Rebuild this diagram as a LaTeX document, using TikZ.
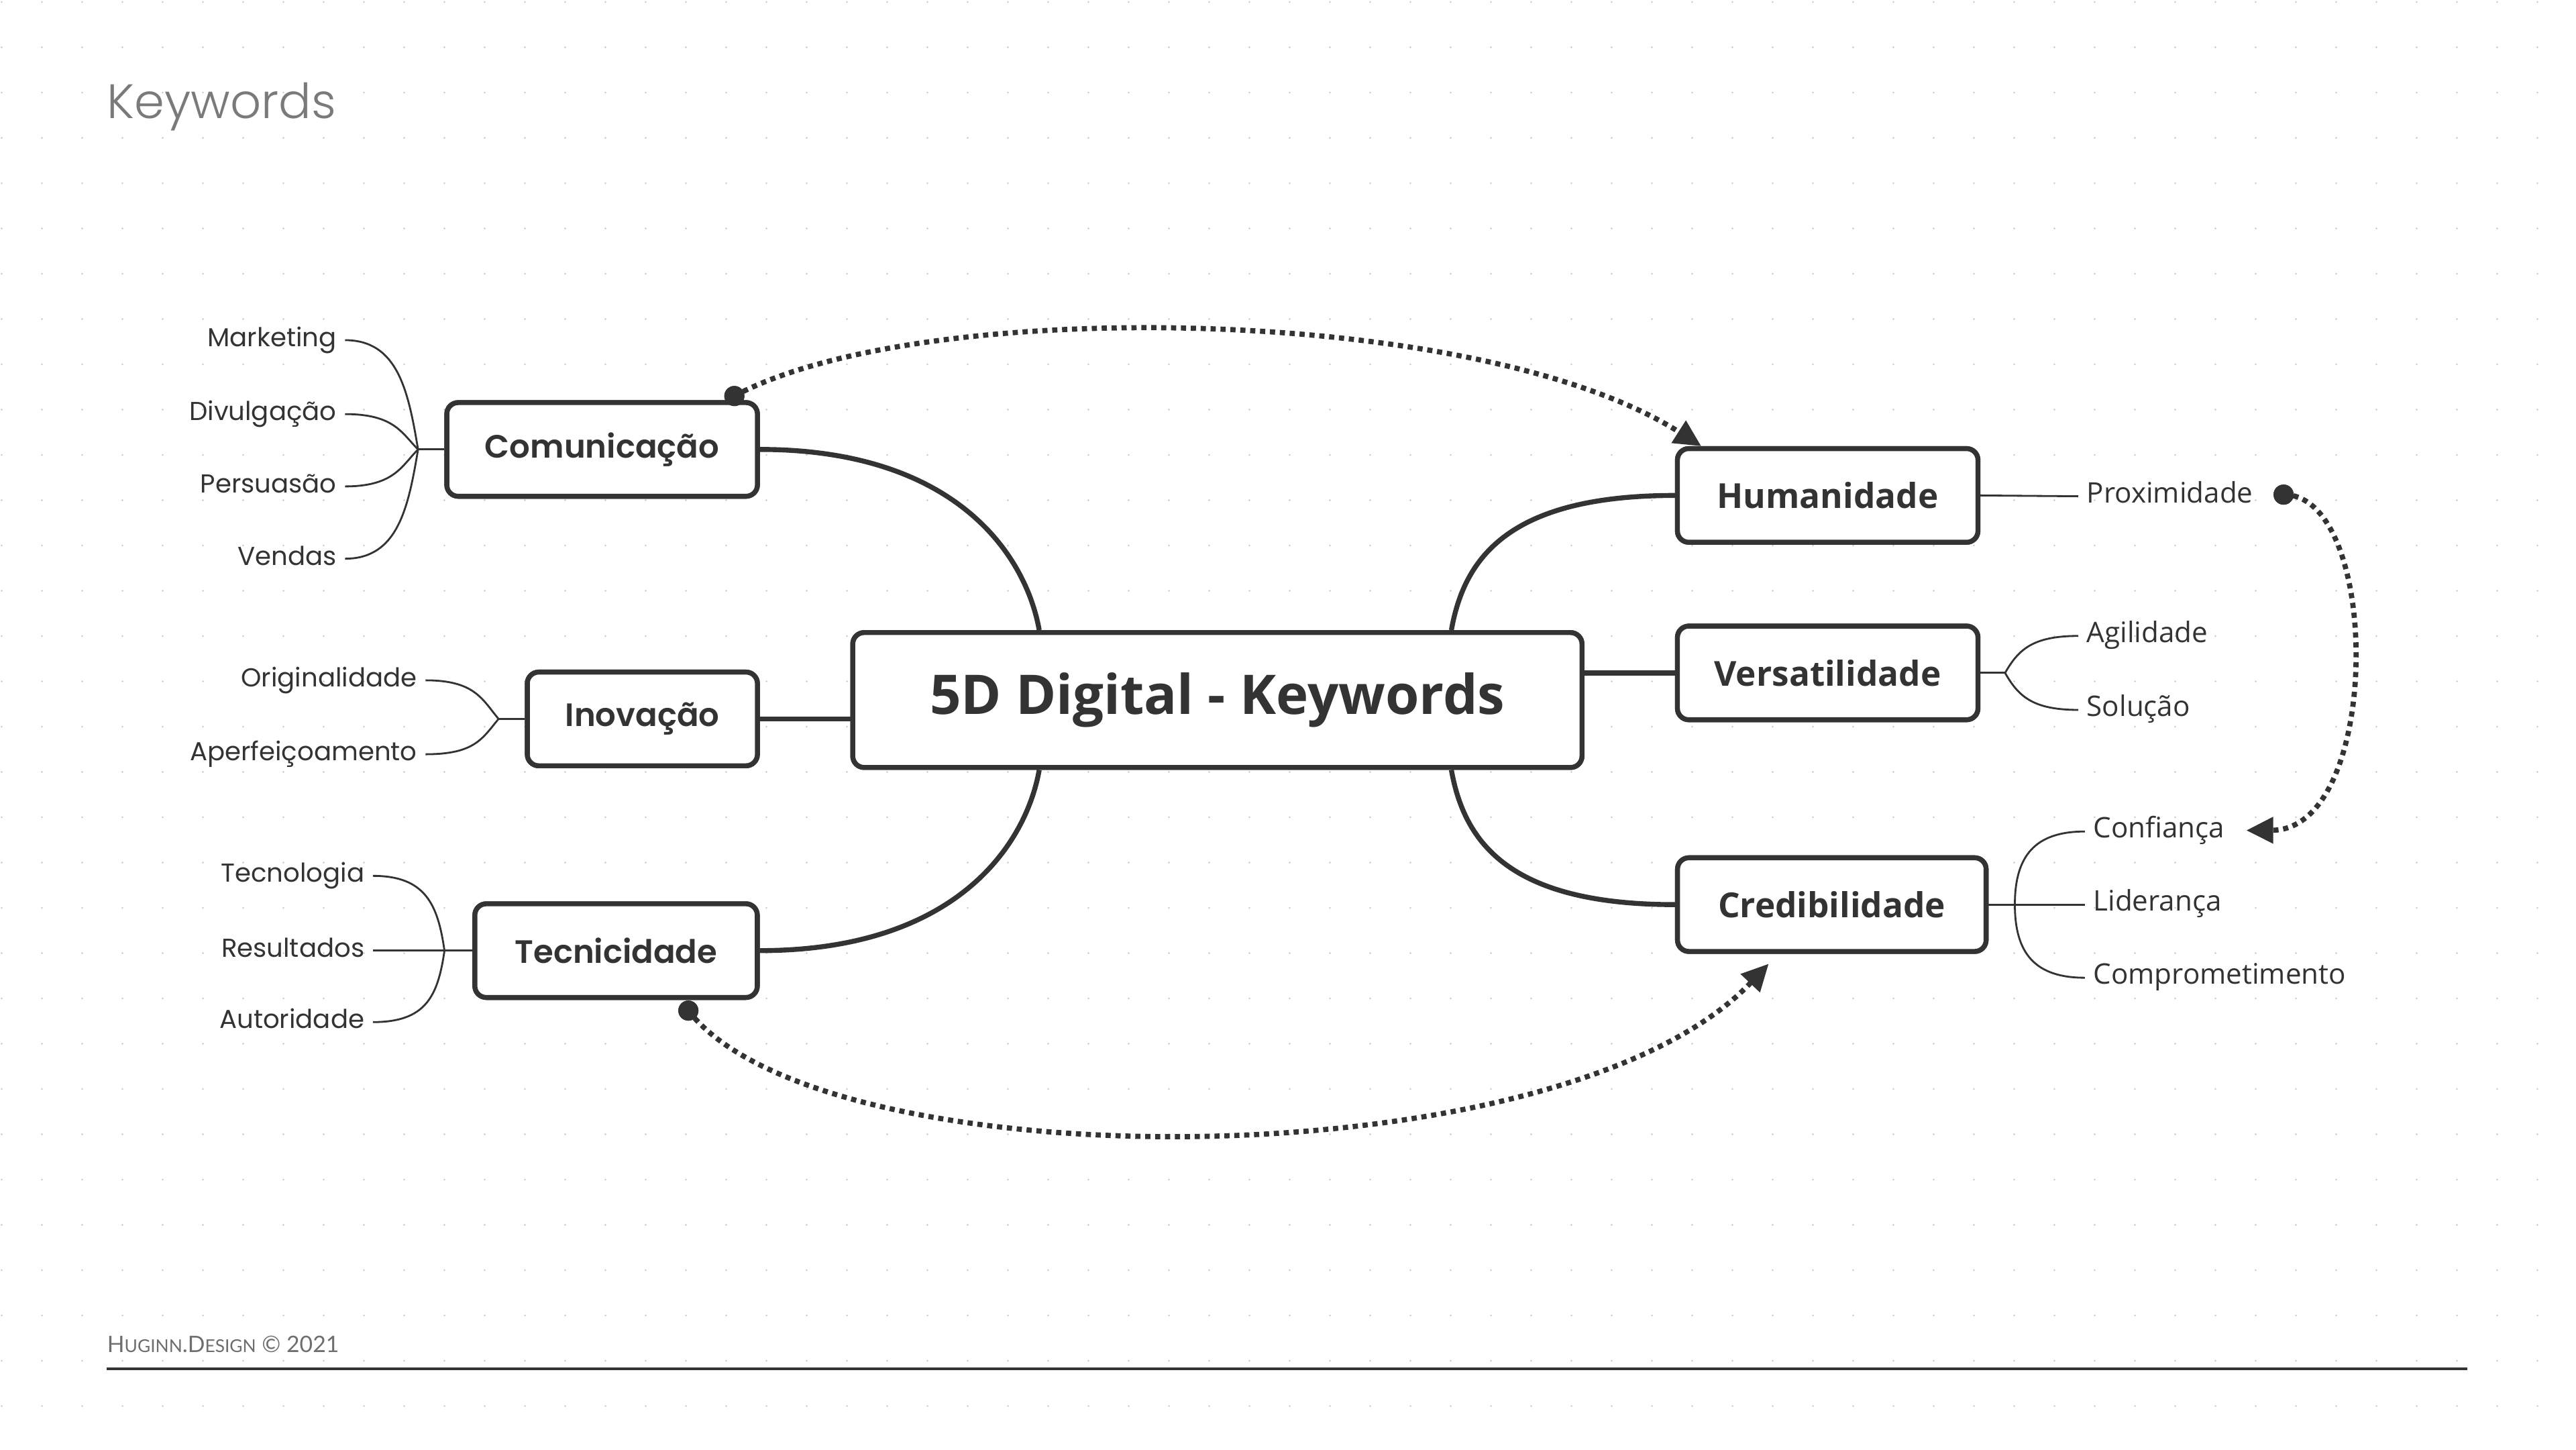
\documentclass[tikz,border=0pt]{standalone}
\usepackage{fontspec}
\setmainfont{Open Sans}
\newfontfamily\popp{Poppins}
\newfontfamily\poppsb{Poppins}[UprightFont=* SemiBold]
\newfontfamily\poppl{Poppins}[UprightFont=* Light]
\newfontfamily\latof{Lato}
\usetikzlibrary{arrows.meta,calc}
\definecolor{ink}{HTML}{333333}
\definecolor{gridc}{HTML}{C8C8C8}
\definecolor{titlec}{HTML}{7A7A7A}
\definecolor{footc}{HTML}{6E6E6E}
\begin{document}
\begin{tikzpicture}[x=0.02449cm,y=-0.02449cm,
  box/.style={draw=ink, line width=2.1pt, rounded corners=0.17cm, fill=white, inner sep=0pt, minimum height=1.396cm, text=ink},
  lbox/.style={box, font=\poppsb\fontsize{13.7}{16}\selectfont},
  rbox/.style={box, font=\bfseries\fontsize{14.6}{16}\selectfont},
  cbox/.style={box, minimum height=2.01cm, minimum width=10.87cm, font=\bfseries\fontsize{23.2}{25}\selectfont},
  main/.style={draw=ink, line width=2.1pt},
  twig/.style={draw=ink, line width=0.8pt},
  llab/.style={anchor=mid east, inner xsep=0.12cm, inner ysep=0pt, text=ink, font=\popp\fontsize{11}{13}\selectfont},
  rlab/.style={anchor=mid west, inner xsep=0.12cm, inner ysep=0pt, text=ink, font=\fontsize{12}{14}\selectfont},
  link/.style={draw=ink, line width=2.2pt, dash pattern=on 2.2pt off 2pt, -{Triangle[length=0.4cm,width=0.38cm]}},
  dotn/.style={circle, fill=ink, inner sep=0pt, minimum size=0.3cm},
]
\useasboundingbox (0,0) rectangle (1568,882);
\fill[white] (0,0) rectangle (1568,882);
\begin{scope}[x=1cm,y=-1cm]
\foreach \i in {0,...,63}{\foreach \j in {0,...,31}{\fill[gridc] (0.025+0.6*\i,0.03+0.675*\j) circle (0.014);}}
\end{scope}

% title and footer
\node[anchor=base west, inner sep=0pt, text=titlec, font=\poppl\fontsize{20.5}{24}\selectfont] (title) at (65,72) {Keywords};
\node[anchor=base west, inner sep=0pt, text=footc, font=\latof\fontsize{9.6}{11}\selectfont] (foot) at (65,823) {H{\fontsize{7.5}{8}\selectfont UGINN}.D{\fontsize{7.5}{8}\selectfont ESIGN} © 2021};
\coordinate (ruleA) at (65,833);
\coordinate (ruleB) at (1502,833);
\draw[ink, line width=1.1pt] (ruleA) -- (ruleB);

% boxes (positions)
\node[cbox] (cen) at (741,426) {5D Digital - Keywords};
\node[lbox, minimum width=4.63cm] (com) at (366.5,273.5) {Comunicação};
\node[lbox, minimum width=3.43cm] (ino) at (391,437.5) {Inovação};
\node[lbox, minimum width=4.21cm] (tec) at (375,578.5) {Tecnicidade};
\node[rbox, minimum width=4.48cm] (hum) at (1112.5,301.5) {Humanidade};
\node[rbox, minimum width=4.48cm] (ver) at (1112.5,409.5) {Versatilidade};
\node[rbox, minimum width=4.60cm] (cre) at (1115,550.5) {Credibilidade};

% main connectors
\draw[main] (com.east) .. controls +(120,0) and +(-8,-45) .. ($(cen.north west)+(115,0)$);
\draw[main] (ino.east) -- (ino.east -| cen.west);
\draw[main] (tec.east) .. controls +(120,0) and +(-8,45) .. ($(cen.south west)+(115,0)$);
\draw[main] (hum.west) .. controls +(-100,0) and +(8,-45) .. ($(cen.north east)+(-81,0)$);
\draw[main] (ver.west) -- (ver.west -| cen.east);
\draw[main] (cre.west) .. controls +(-100,0) and +(8,45) .. ($(cen.south east)+(-81,0)$);

% redraw boxes on top
\node[cbox] at (cen) {5D Digital - Keywords};
\node[lbox, minimum width=4.63cm] at (com) {Comunicação};
\node[lbox, minimum width=3.43cm] at (ino) {Inovação};
\node[lbox, minimum width=4.21cm] at (tec) {Tecnicidade};
\node[rbox, minimum width=4.48cm] at (hum) {Humanidade};
\node[rbox, minimum width=4.48cm] at (ver) {Versatilidade};
\node[rbox, minimum width=4.60cm] at (cre) {Credibilidade};

% left labels
\node[llab] (mkt) at (210,207) {Marketing};
\node[llab] (div) at (210,252) {Divulgação};
\node[llab] (per) at (210,296) {Persuasão};
\node[llab] (ven) at (210,340) {Vendas};
\coordinate (cj) at ($(com.west)+(-16,0)$);
\draw[twig] (cj) -- (com.west);
\draw[twig] (mkt.mid east) .. controls +(32,0) and +(-6,-36) .. (cj);
\draw[twig] (div.mid east) .. controls +(30,0) and +(-10,-10) .. (cj);
\draw[twig] (per.mid east) .. controls +(30,0) and +(-10,10) .. (cj);
\draw[twig] (ven.mid east) .. controls +(32,0) and +(-6,36) .. (cj);

\node[llab] (ori) at (259,414) {Originalidade};
\node[llab] (ape) at (259,459) {Aperfeiçoamento};
\coordinate (ij) at ($(ino.west)+(-16,0)$);
\draw[twig] (ij) -- (ino.west);
\draw[twig] (ori.mid east) .. controls +(30,0) and +(-10,-12) .. (ij);
\draw[twig] (ape.mid east) .. controls +(30,0) and +(-10,12) .. (ij);

\node[llab] (tcn) at (227,533) {Tecnologia};
\node[llab] (res) at (227,578.5) {Resultados};
\node[llab] (aut) at (227,622) {Autoridade};
\coordinate (tj) at ($(tec.west)+(-17,0)$);
\draw[twig] (res.mid east) -- (tec.west);
\draw[twig] (tcn.mid east) .. controls +(32,0) and +(-4,-28) .. (tj);
\draw[twig] (aut.mid east) .. controls +(32,0) and +(-4,28) .. (tj);

% right labels
\node[rlab] (pro) at (1265,302) {Proximidade};
\draw[twig] (hum.east) -- (pro.mid west);

\node[rlab] (agi) at (1265,387) {Agilidade};
\node[rlab] (sol) at (1265,432) {Solução};
\coordinate (vj) at ($(ver.east)+(15,0)$);
\draw[twig] (ver.east) -- (vj);
\draw[twig] (vj) .. controls +(8,-14) and +(-28,0) .. (agi.mid west);
\draw[twig] (vj) .. controls +(8,14) and +(-28,0) .. (sol.mid west);

\node[rlab] (cnf) at (1269,506) {Confiança};
\node[rlab] (lid) at (1269,550.5) {Liderança};
\node[rlab] (cmp) at (1269,595) {Comprometimento};
\coordinate (crj) at ($(cre.east)+(16,0)$);
\draw[twig] (cre.east) -- (lid.mid west);
\draw[twig] (crj) .. controls +(0,-30) and +(-30,0) .. (cnf.mid west);
\draw[twig] (crj) .. controls +(0,30) and +(-30,0) .. (cmp.mid west);

% dotted relation arrows
\node[dotn] (d1) at (447,241) {};
\node[dotn] (d2) at (419,615) {};
\node[dotn] (d3) at (1390,301) {};
\draw[link] (d1.center) .. controls (560,180) and (900,185) .. ($(hum.north west)+(16,0)$);
\draw[link] (d2.center) .. controls (500,720) and (950,720) .. ($(cre.south west)+(57,6)$);
\draw[link] (d3.center) .. controls (1450,301) and (1450,505) .. ($(cnf.east)+(8,0)$);
\node[dotn] at (d1) {};
\node[dotn] at (d2) {};
\node[dotn] at (d3) {};
\end{tikzpicture}
\end{document}
